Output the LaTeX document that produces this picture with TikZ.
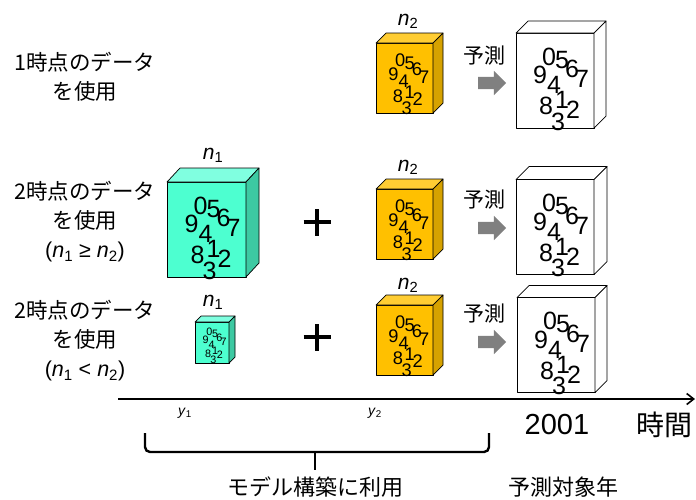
\documentclass[tikz,border=0pt]{standalone}
\usepackage{fontspec}
\setmainfont{Liberation Sans}
\newfontfamily\jpfont{Noto Sans CJK JP}
\usetikzlibrary{arrows.meta,shapes.arrows}
\definecolor{orF}{HTML}{FFC000}
\definecolor{orT}{HTML}{FFCD33}
\definecolor{orS}{HTML}{D6A200}
\definecolor{grF}{HTML}{4DFFD0}
\definecolor{grT}{HTML}{80FFE0}
\definecolor{grS}{HTML}{3DC9A2}
\definecolor{whF}{HTML}{FFFFFF}
\definecolor{whT}{HTML}{FFFFFF}
\definecolor{whS}{HTML}{FFFFFF}
\tikzset{
  edge/.style={draw=black,line width=0.7pt,line join=round},
  dig/.style={font=\fontsize{25}{25}\selectfont,inner sep=0pt},
  jp/.style={font=\jpfont\fontsize{21.5}{29}\selectfont,align=center},
  yosoku/.style={font=\jpfont\fontsize{21}{21}\selectfont,inner sep=0pt},
  nlab/.style={font=\fontsize{21}{21}\selectfont,inner sep=0pt},
  ylab/.style={font=\fontsize{14}{14}\selectfont,inner sep=0pt},
  garrow/.style={single arrow,fill=black!50,draw=none,minimum height=28pt,
    single arrow head extend=6pt,inner sep=6pt,single arrow head indent=0pt},
  plusbar/.style={line width=4.5pt},
}
\newcommand\mycube[8]{% name, cx, cy, w, h, dx, dy, colour prefix
  \node[edge,fill=#8F,minimum width=#4pt,minimum height=#5pt,inner sep=0pt,outer sep=0pt] (#1) at (#2,#3) {};
  \filldraw[edge,fill=#8T] (#1.north west) -- ++(#6,-#7) -- ++(#4,0) -- (#1.north east) -- cycle;
  \filldraw[edge,fill=#8S] (#1.north east) -- ++(#6,-#7) -- ++(0,#5) -- (#1.south east) -- cycle;
}
\newcommand\mydigits[4]{% prefix, cx, cy, scale
  \begin{scope}[shift={(#2,#3)},scale=#4,transform shape]
    \node[dig] (#1a) at (-6,-24) {0};
    \node[dig] (#1b) at (7,-20.5) {5};
    \node[dig] (#1c) at (17,-11.5) {6};
    \node[dig] (#1d) at (27,-1.5) {7};
    \node[dig] (#1e) at (-15,-5.5) {9};
    \node[dig] (#1f) at (-1,4.5) {4};
    \node[dig] (#1g) at (-9,25.5) {8};
    \node[dig] (#1h) at (7,19.5) {1};
    \node[dig] (#1i) at (18,29.5) {2};
    \node[dig] (#1j) at (3,41) {3};
  \end{scope}
}
\begin{document}
\begin{tikzpicture}[x=1pt,y=-1pt]
\useasboundingbox (0,0) rectangle (696,499);

% left labels
\node[jp] (t1) at (85,77) {1時点のデータ\\を使用};
\node[jp] (t2) at (85,222) {2時点のデータ\\を使用\\{\rmfamily (\textit{n}\textsubscript{1} ≥ \textit{n}\textsubscript{2})}};
\node[jp] (t3) at (85,341) {2時点のデータ\\を使用\\{\rmfamily (\textit{n}\textsubscript{1} < \textit{n}\textsubscript{2})}};

% row 1
\mycube{o1}{404.5}{78}{57}{70}{10}{10}{or}
\mydigits{o1}{404.5}{78}{0.73}
\node[nlab] (n21) at (408,21) {\textit{n}\textsubscript{2}};
\node[yosoku] (p1) at (484,56) {予測};
\node[garrow] (a1) at (489,83) {};
\mycube{w1}{555}{80.5}{78}{95}{12}{12}{wh}
\mydigits{w1}{555}{80.5}{1}

% row 2
\mycube{g2}{206.5}{229.5}{79}{95}{13}{14}{gr}
\mydigits{g2}{206.5}{229.5}{1}
\node[nlab] (n12) at (213,155) {\textit{n}\textsubscript{1}};
\coordinate (pl2) at (317,222);
\draw[plusbar] ([xshift=-13.5pt]pl2) -- ([xshift=13.5pt]pl2);
\draw[plusbar] ([yshift=-13.5pt]pl2) -- ([yshift=13.5pt]pl2);
\mycube{o2}{404.5}{224}{57}{70}{10}{10}{or}
\mydigits{o2}{404.5}{224}{0.73}
\node[nlab] (n22) at (408,167) {\textit{n}\textsubscript{2}};
\node[yosoku] (p2) at (484,200) {予測};
\node[garrow] (a2) at (489,228) {};
\mycube{w2}{555}{227}{78}{95}{13}{13}{wh}
\mydigits{w2}{555}{227}{1}

% row 3
\mycube{g3}{212}{342.5}{34}{41}{6}{6}{gr}
\mydigits{g3}{212}{342.5}{0.43}
\node[nlab] (n13) at (213,302) {\textit{n}\textsubscript{1}};
\coordinate (pl3) at (317,337);
\draw[plusbar] ([xshift=-13.5pt]pl3) -- ([xshift=13.5pt]pl3);
\draw[plusbar] ([yshift=-13.5pt]pl3) -- ([yshift=13.5pt]pl3);
\mycube{o3}{404.5}{340}{57}{70}{10}{10}{or}
\mydigits{o3}{404.5}{340}{0.73}
\node[nlab] (n23) at (408,285) {\textit{n}\textsubscript{2}};
\node[yosoku] (p3) at (484,314) {予測};
\node[garrow] (a3) at (489,342) {};
\mycube{w3}{556}{345}{78}{95}{12}{12}{wh}
\mydigits{w3}{556}{345}{1}

% time axis
\coordinate (ax0) at (118,399);
\coordinate (ax1) at (695,399);
\draw[line width=1.6pt,-{Straight Barb[length=7pt,width=11pt]}] (ax0) -- (ax1);
\node[ylab] (y1) at (185,413) {\textit{y}\textsubscript{1}};
\node[ylab] (y2) at (375,413) {\textit{y}\textsubscript{2}};
\node[font=\fontsize{29}{29}\selectfont,inner sep=0pt] (yr) at (557,425) {2001};
\node[font=\jpfont\fontsize{28}{28}\selectfont,inner sep=0pt] (jk) at (664,425) {時間};

% brace
\coordinate (bl) at (145,433);
\coordinate (br) at (489,433);
\coordinate (bm) at (315,452);
\coordinate (bt) at (315,470);
\draw[line width=2.4pt,rounded corners=5pt] (bl) -- (bl |- bm) -- (br |- bm) -- (br);
\draw[line width=2.4pt] (bm) -- (bt);
\node[font=\jpfont\fontsize{22}{22}\selectfont,inner sep=0pt] (lb1) at (315,487) {モデル構築に利用};
\node[font=\jpfont\fontsize{22}{22}\selectfont,inner sep=0pt] (lb2) at (563,487) {予測対象年};
\end{tikzpicture}
\end{document}
